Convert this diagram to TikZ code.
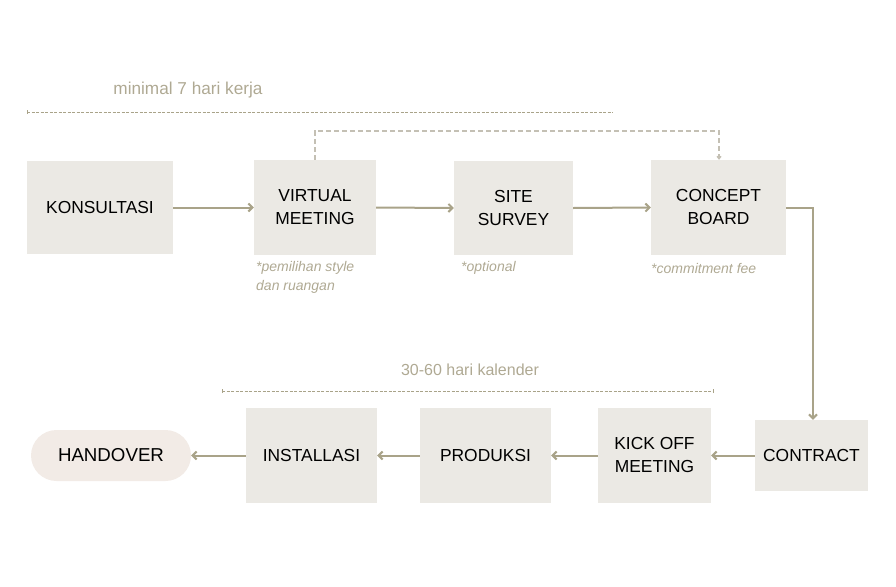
\documentclass[tikz,border=0pt]{standalone}
\usepackage{fontspec}
\setmainfont{Liberation Sans}
\usetikzlibrary{arrows.meta}
\definecolor{boxfill}{HTML}{EBE9E4}
\definecolor{hofill}{HTML}{F2EBE6}
\definecolor{arrowc}{HTML}{A9A389}
\definecolor{labelc}{HTML}{AFA993}
\definecolor{dashc}{HTML}{C4C0B4}
\tikzset{
  stepbox/.style={fill=boxfill, draw=none, align=center, inner sep=0pt, font=\fontsize{17.4}{23}\selectfont},
  flow/.style={draw=arrowc, line width=2pt, -{Straight Barb[length=4pt,width=8pt]}},
  note/.style={text=labelc, font=\fontsize{14}{19.5}\selectfont\itshape, anchor=north west, align=left, inner sep=0pt},
  spanlbl/.style={text=labelc, font=\fontsize{16}{19}\selectfont, inner sep=0pt},
  spanline/.style={draw=arrowc, dashed, dash pattern=on 3pt off 1.5pt, line width=0.7pt},
  loopline/.style={draw=dashc, dash pattern=on 5pt off 3pt, line width=1.3pt}
}
\begin{document}
\begin{tikzpicture}[x=1pt,y=-1pt]
\useasboundingbox (0,0) rectangle (896,586);
% top row
\node[stepbox, minimum width=146pt, minimum height=93pt] (kons) at (100,207.5) {KONSULTASI};
\node[stepbox, minimum width=122pt, minimum height=95pt] (vm) at (315,207.5) {VIRTUAL\\MEETING};
\node[stepbox, minimum width=119pt, minimum height=94pt] (ss) at (513.5,208) {SITE\\SURVEY};
\node[stepbox, minimum width=135pt, minimum height=95pt] (cb) at (718.5,207.5) {CONCEPT\\BOARD};
% bottom row
\node[stepbox, minimum width=113pt, minimum height=71pt] (ct) at (811.5,455.5) {CONTRACT};
\node[stepbox, minimum width=113pt, minimum height=95pt] (ko) at (654.5,455.5) {KICK OFF\\MEETING};
\node[stepbox, minimum width=131pt, minimum height=95pt] (pr) at (485.5,455.5) {PRODUKSI};
\node[stepbox, minimum width=131pt, minimum height=95pt] (in) at (311.5,455.5) {INSTALLASI};
\node[stepbox, fill=hofill, rounded corners=25.5pt, minimum width=160pt, minimum height=51pt, font=\fontsize{18.7}{23}\selectfont] (ho) at (111,455.5) {HANDOVER};
% notes
\node[note] (n1) at (256,261) {*pemilihan style\\dan ruangan};
\node[note] (n2) at (461,261) {*optional};
\node[note] (n3) at (651,263) {*commitment fee};
% span labels
\node[spanlbl, font=\fontsize{17.2}{19}\selectfont] (s1) at (188,90) {minimal 7 hari kerja};
\coordinate (s1a) at (27,112);
\coordinate (s1b) at (613,112);
\draw[spanline] (s1a) -- (s1b);
\draw[draw=arrowc, line width=0.7pt] ([yshift=-2pt]s1a) -- ([yshift=2pt]s1a);
\node[spanlbl] (s2) at (470,370) {30-60 hari kalender};
\coordinate (s2a) at (222,391);
\coordinate (s2b) at (713,391);
\draw[spanline] (s2a) -- (s2b);
\draw[draw=arrowc, line width=0.7pt] ([yshift=-2pt]s2a) -- ([yshift=2pt]s2a);
\draw[draw=arrowc, line width=0.7pt] ([yshift=-2pt]s2b) -- ([yshift=2pt]s2b);
% flow arrows
\draw[flow] (kons.east) -- (vm.west);
\draw[flow] (vm.east) -- (ss.west);
\draw[flow] (ss.east) -- (cb.west);
\draw[flow] (cb.east) -- ++(26,0) -| ([xshift=1.5pt]ct.north);
\draw[flow] (ct.west) -- (ko.east);
\draw[flow] (ko.west) -- (pr.east);
\draw[flow] (pr.west) -- (in.east);
\draw[flow] (in.west) -- (ho.east);
% dashed loop
\coordinate (la) at (315,131);
\draw[loopline, -{Straight Barb[length=2.5pt,width=4pt]}] (vm.north) -- (la) -| ([xshift=0.5pt]cb.north);
\end{tikzpicture}
\end{document}
